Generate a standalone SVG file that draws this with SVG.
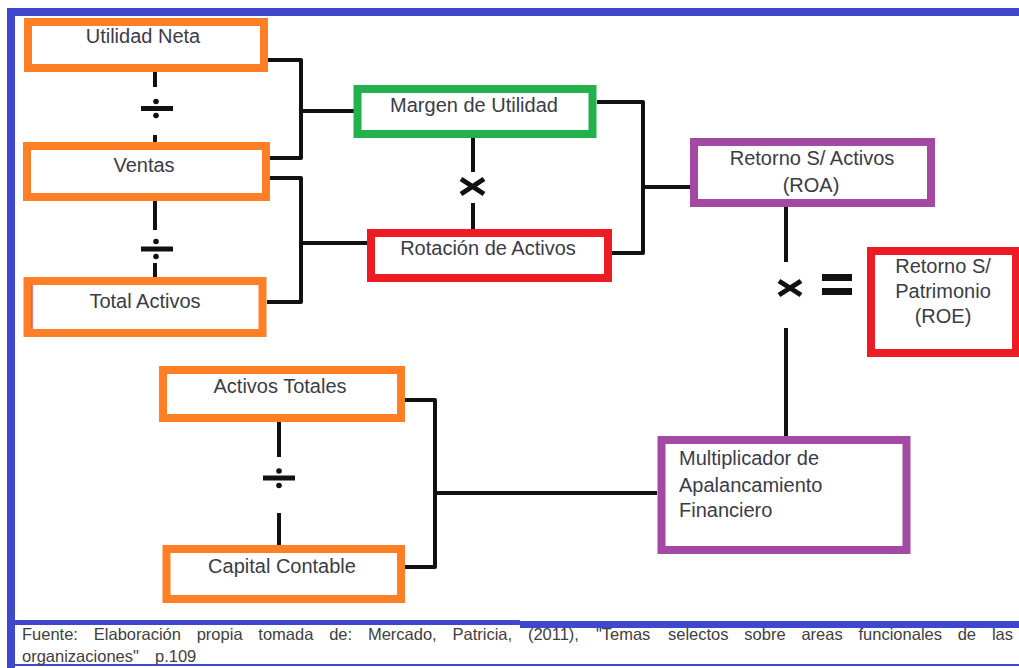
<svg xmlns="http://www.w3.org/2000/svg" width="1019" height="668" viewBox="0 0 1019 668">
  <style>
    .box { fill: #ffffff; stroke-width: 8; }
    .orange { stroke: #ff7f27; }
    .green { stroke: #22b14c; }
    .red { stroke: #ed1c24; }
    .purple { stroke: #a349a4; }
    .lbl { font-family: "Liberation Sans", Arial, sans-serif; font-size: 20px; fill: #3b3b48; }
    .mid { text-anchor: middle; }
    .wire { fill: none; stroke: #111111; stroke-width: 4; stroke-linejoin: round; }
    .op { fill: none; stroke: #111111; stroke-width: 5; }
    .dot { fill: #111111; }
    .frame { fill: #3f48cc; }
    .note { font-family: "Liberation Sans", Arial, sans-serif; font-size: 16.5px; fill: #404040; }
  </style>

  <rect width="1019" height="668" fill="#ffffff"/>

  <!-- frame -->
  <g id="frame">
    <rect class="frame" x="8" y="8" width="1011" height="8"/>
    <rect class="frame" x="7" y="8" width="8" height="660"/>
    <rect class="frame" x="7" y="620" width="513" height="5"/>
    <rect class="frame" x="520" y="621" width="499" height="7"/>
    <rect class="frame" x="7" y="664" width="1012" height="2"/>
  </g>

  <!-- connectors and operators -->
  <g id="connectors">
    <path class="wire" d="M268,60 H301 V158 H270 M301,111 H354"/>
    <path class="wire" d="M270,178 H301 V302 H267 M301,243 H367"/>
    <path class="wire" d="M597,102 H643 V253 H612 M643,187 H690"/>
    <path class="wire" d="M405,400 H435 V567 H405 M435,493 H657"/>

    <!-- Utilidad Neta / Ventas -->
    <path class="wire" d="M155,72 V87 M155,135 V142"/>
    <path class="op" d="M141,108.5 H173"/>
    <circle class="dot" cx="156" cy="101.5" r="2.8"/>
    <circle class="dot" cx="156" cy="115.5" r="2.8"/>

    <!-- Ventas / Total Activos -->
    <path class="wire" d="M155,201 V230 M155,263 V277"/>
    <path class="op" d="M141,249 H173"/>
    <circle class="dot" cx="156" cy="241.5" r="2.8"/>
    <circle class="dot" cx="156" cy="256.5" r="2.8"/>

    <!-- Activos Totales / Capital Contable -->
    <path class="wire" d="M279,422 V457 M279,513 V545"/>
    <path class="op" d="M263,478 H295"/>
    <circle class="dot" cx="279" cy="471" r="2.8"/>
    <circle class="dot" cx="279" cy="485.5" r="2.8"/>

    <!-- Margen x Rotacion -->
    <path class="wire" d="M473,134 V172 M473,203 V229"/>
    <path class="op" stroke-width="6" d="M461,179 L484,194 M461,194 L484,179"/>

    <!-- ROA x Multiplicador = ROE -->
    <path class="wire" d="M786,207 V262 M786,328 V436"/>
    <path class="op" stroke-width="6" d="M779,281 L801,295 M779,295 L801,281"/>
    <rect class="dot" x="822" y="274" width="30" height="7"/>
    <rect class="dot" x="822" y="288" width="30" height="7"/>
  </g>

  <g id="utilidad-neta">
    <rect class="box orange" x="28" y="22" width="236" height="46"/>
    <text class="lbl mid" x="143" y="43">Utilidad Neta</text>
  </g>

  <g id="ventas">
    <rect class="box orange" x="27" y="146" width="239" height="51"/>
    <text class="lbl mid" x="144" y="172">Ventas</text>
  </g>

  <g id="total-activos">
    <rect class="box orange" x="27.5" y="281" width="235" height="52"/>
    <line x1="32" y1="285" x2="32" y2="329" stroke="#ed1c24" stroke-width="1.2"/>
    <text class="lbl mid" x="145" y="308">Total Activos</text>
  </g>

  <g id="margen-utilidad">
    <rect class="box green" x="357.5" y="89" width="235" height="45"/>
    <text class="lbl mid" x="474" y="112">Margen de Utilidad</text>
  </g>

  <g id="rotacion-activos">
    <rect class="box red" x="371" y="233" width="237" height="45"/>
    <text class="lbl mid" x="488" y="255">Rotación de Activos</text>
  </g>

  <g id="roa">
    <rect class="box purple" x="694" y="142" width="237" height="61"/>
    <text class="lbl mid" x="812" y="165">Retorno S/ Activos</text>
    <text class="lbl mid" x="811" y="192">(ROA)</text>
  </g>

  <g id="roe">
    <rect class="box red" x="871" y="251" width="145" height="102"/>
    <text class="lbl mid" x="943" y="273">Retorno S/</text>
    <text class="lbl mid" x="943" y="298">Patrimonio</text>
    <text class="lbl mid" x="943" y="323">(ROE)</text>
  </g>

  <g id="activos-totales">
    <rect class="box orange" x="163" y="370" width="238" height="48"/>
    <text class="lbl mid" x="280" y="393">Activos Totales</text>
  </g>

  <g id="capital-contable">
    <rect class="box orange" x="166.5" y="549" width="234.5" height="50"/>
    <text class="lbl mid" x="282" y="573">Capital Contable</text>
  </g>

  <g id="multiplicador">
    <rect class="box purple" x="661.5" y="440" width="245" height="110"/>
    <text class="lbl" x="679" y="465">Multiplicador de</text>
    <text class="lbl" x="679" y="492">Apalancamiento</text>
    <text class="lbl" x="679" y="517">Financiero</text>
  </g>

  <!-- source note, justified line set word by word -->
  <g id="fuente">
    <text class="note" y="640">
      <tspan x="22">Fuente:</tspan>
      <tspan x="93.8">Elaboración</tspan>
      <tspan x="196.7">propia</tspan>
      <tspan x="258.3">tomada</tspan>
      <tspan x="329.2">de:</tspan>
      <tspan x="367.9">Mercado,</tspan>
      <tspan x="452.5">Patricia,</tspan>
      <tspan x="527.9">(2011),</tspan>
      <tspan x="595.9">"Temas</tspan>
      <tspan x="668">selectos</tspan>
      <tspan x="744.3">sobre</tspan>
      <tspan x="801.4">areas</tspan>
      <tspan x="858.5">funcionales</tspan>
      <tspan x="957.7">de</tspan>
      <tspan x="991.9">las</tspan>
    </text>
    <text class="note" y="662"><tspan x="22">organizaciones"</tspan><tspan x="155">p.109</tspan></text>
  </g>
</svg>
